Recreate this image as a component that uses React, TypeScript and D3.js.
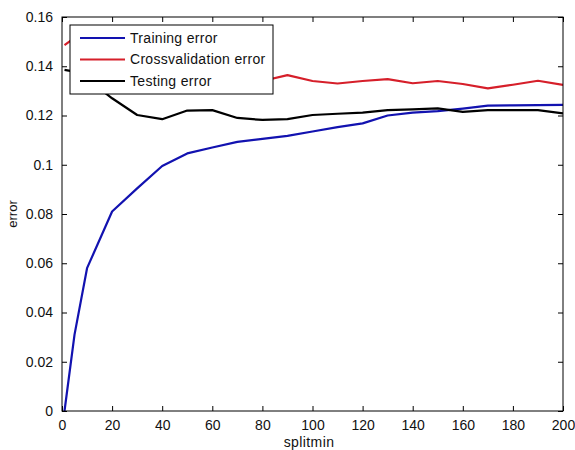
import { useEffect, useRef } from "react";
import * as d3 from "d3";

// splitmin values and the three error curves
const splitmin = [1, 5, 10, 20, 30, 40, 50, 60, 70, 80, 90, 100, 110, 120, 130, 140, 150, 160, 170, 180, 190, 200];
const trainingError = [0, 0.031, 0.058, 0.081, 0.0904, 0.0995, 0.1046, 0.107, 0.1093, 0.1105, 0.1117, 0.1135, 0.1153, 0.1168, 0.12, 0.1212, 0.1218, 0.1228, 0.124, 0.1241, 0.1242, 0.1243];
const crossvalError = [0.1486, 0.1515, 0.148, 0.143, 0.14, 0.138, 0.137, 0.136, 0.135, 0.134, 0.1364, 0.134, 0.133, 0.134, 0.1348, 0.1331, 0.134, 0.1328, 0.131, 0.1325, 0.1341, 0.1324];
const testingError = [0.1385, 0.1378, 0.135, 0.127, 0.1202, 0.1185, 0.122, 0.1222, 0.119, 0.1182, 0.1185, 0.1202, 0.1207, 0.1212, 0.1222, 0.1225, 0.1229, 0.1215, 0.1222, 0.1222, 0.1222, 0.1209];

const xTicks = [0, 20, 40, 60, 80, 100, 120, 140, 160, 180, 200];
const yTicks = [0, 0.02, 0.04, 0.06, 0.08, 0.1, 0.12, 0.14, 0.16];

const series = [
  { name: "Training error", values: trainingError, color: "#1212b0" },
  { name: "Crossvalidation error", values: crossvalError, color: "#d61f2a" },
  { name: "Testing error", values: testingError, color: "#000000" },
];

const width = 575,
  height = 450;
const margin = { top: 17, right: 12, bottom: 39, left: 62 };

export default function App() {
  const ref = useRef<SVGSVGElement>(null);

  useEffect(() => {
    const svg = d3.select(ref.current);
    svg.selectAll("*").remove();

    const x = d3.scaleLinear().domain([0, 200]).range([margin.left, width - margin.right]);
    const y = d3.scaleLinear().domain([0, 0.16]).range([height - margin.bottom, margin.top]);
    const font = "Liberation Sans, Arial, sans-serif";

    svg
      .append("clipPath")
      .attr("id", "plot-clip")
      .append("rect")
      .attr("x", x(0))
      .attr("y", y(0.16))
      .attr("width", x(200) - x(0))
      .attr("height", y(0) - y(0.16));

    const line = d3
      .line<number>()
      .x((_, i) => x(splitmin[i]))
      .y((d) => y(d));

    svg
      .append("g")
      .attr("clip-path", "url(#plot-clip)")
      .selectAll("path")
      .data(series)
      .enter()
      .append("path")
      .attr("d", (d) => line(d.values))
      .attr("fill", "none")
      .attr("stroke", (d) => d.color)
      .attr("stroke-width", 2.2)
      .attr("stroke-linejoin", "round");

    // axes, MATLAB style: ticks inside on all four sides
    const tickSize = -5;
    const styleAxis = (g) => {
      g.select(".domain").remove();
      g.selectAll("line").attr("stroke", "#000");
      g.selectAll("text").attr("fill", "#111").style("font", `14px ${font}`);
    };

    svg
      .append("g")
      .attr("transform", `translate(0,${y(0)})`)
      .call(d3.axisBottom(x).tickValues(xTicks).tickSize(tickSize).tickPadding(9).tickFormat(d3.format("d")))
      .call(styleAxis);

    svg
      .append("g")
      .attr("transform", `translate(0,${y(0.16)})`)
      .call(d3.axisTop(x).tickValues(xTicks).tickSize(tickSize).tickFormat(() => ""))
      .call(styleAxis);

    svg
      .append("g")
      .attr("transform", `translate(${x(0)},0)`)
      .call(d3.axisLeft(y).tickValues(yTicks).tickSize(tickSize).tickPadding(9).tickFormat((d) => String(+d)))
      .call(styleAxis);

    svg
      .append("g")
      .attr("transform", `translate(${x(200)},0)`)
      .call(d3.axisRight(y).tickValues(yTicks).tickSize(tickSize).tickFormat(() => ""))
      .call(styleAxis);

    svg
      .append("rect")
      .attr("x", x(0))
      .attr("y", y(0.16))
      .attr("width", x(200) - x(0))
      .attr("height", y(0) - y(0.16))
      .attr("fill", "none")
      .attr("stroke", "#000");

    svg
      .append("text")
      .attr("x", 309)
      .attr("y", 447)
      .attr("text-anchor", "middle")
      .attr("fill", "#111")
      .style("font", `14px ${font}`)
      .style("letter-spacing", "0.4px")
      .text("splitmin");

    svg
      .append("text")
      .attr("transform", `translate(17,${(y(0) + y(0.16)) / 2}) rotate(-90)`)
      .attr("text-anchor", "middle")
      .attr("fill", "#111")
      .style("font", `13px ${font}`)
      .text("error");

    // legend
    const legend = svg.append("g").attr("transform", "translate(70,25)");
    legend
      .append("rect")
      .attr("width", 203)
      .attr("height", 69)
      .attr("fill", "#fff")
      .attr("stroke", "#000");

    const rows = legend
      .selectAll("g.row")
      .data(series)
      .enter()
      .append("g")
      .attr("class", "row")
      .attr("transform", (_, i) => `translate(0,${13 + i * 21.5})`);

    rows
      .append("line")
      .attr("x1", 10)
      .attr("x2", 55)
      .attr("stroke", (d) => d.color)
      .attr("stroke-width", 2.2);

    rows
      .append("text")
      .attr("x", 60)
      .attr("dy", "0.35em")
      .attr("fill", "#111")
      .style("font", `14px ${font}`)
      .style("letter-spacing", "0.3px")
      .text((d) => d.name);
  }, []);

  return (
    <svg
      ref={ref}
      width={width}
      height={height}
      style={{ position: "absolute", left: 0, top: 0, background: "#fff" }}
    />
  );
}
